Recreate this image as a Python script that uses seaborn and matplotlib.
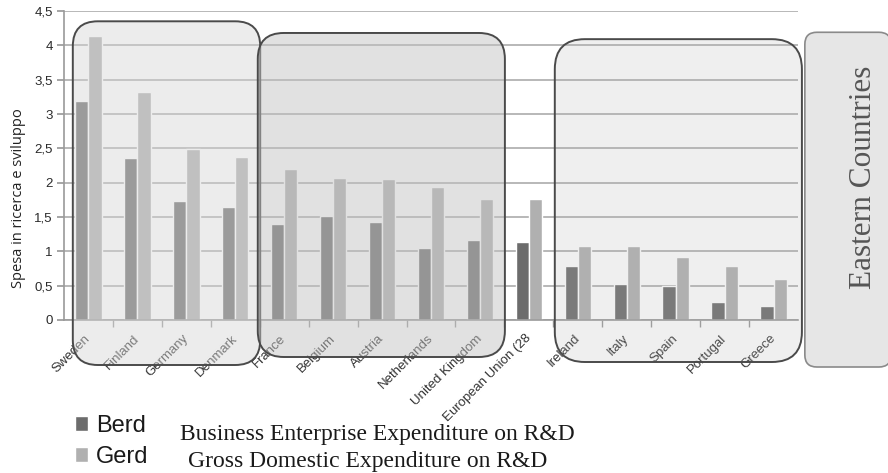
import numpy as np
import pandas as pd
import matplotlib
matplotlib.use("Agg")
import matplotlib.pyplot as plt
import matplotlib.colors as mcolors
import seaborn as sns
from matplotlib.patches import FancyBboxPatch
from matplotlib.transforms import IdentityTransform
from matplotlib.ticker import FuncFormatter

# ---------------- data ----------------
countries = ["Sweden", "Finland", "Germany", "Denmark", "France", "Belgium",
             "Austria", "Netherlands", "United Kingdom", "European Union (28",
             "Ireland", "Italy", "Spain", "Portugal", "Greece"]
berd = [3.19, 2.36, 1.73, 1.65, 1.40, 1.51, 1.42, 1.05, 1.17, 1.13,
        0.78, 0.53, 0.50, 0.26, 0.20]
gerd = [4.14, 3.32, 2.49, 2.38, 2.20, 2.07, 2.05, 1.94, 1.76, 1.76,
        1.08, 1.08, 0.92, 0.78, 0.59]
series = ["Berd", "Gerd"]
series_desc = ["Business Enterprise Expenditure on R&D",
               "Gross Domestic Expenditure on R&D"]
y_label = "Spesa in ricerca e sviluppo"
side_label = "Eastern Countries"
y_ticks = [0, 0.5, 1, 1.5, 2, 2.5, 3, 3.5, 4, 4.5]

df = pd.DataFrame({
    "Paese": countries * 2,
    "Serie": [series[0]] * len(countries) + [series[1]] * len(countries),
    "Valore": berd + gerd,
})

# ---------------- style ----------------
W, H = 888, 473
sns.set_theme(style="white")
plt.rcParams["font.family"] = ["Liberation Sans", "DejaVu Sans"]

fig = plt.figure(figsize=(W / 100, H / 100), dpi=100)
fig.patch.set_facecolor("white")
ax = fig.add_axes([64 / W, 1 - 320 / H, (798 - 64) / W, (320 - 11) / H])

sns.barplot(data=df, x="Paese", y="Valore", hue="Serie", order=countries,
            hue_order=series, palette={"Berd": "#6c6c6c", "Gerd": "#b0b0b0"},
            saturation=1, width=0.54, ax=ax, zorder=2)

ax.set_xlim(-0.5, len(countries) - 0.5)
ax.set_ylim(0, 4.5)
ax.set_yticks(y_ticks)
ax.yaxis.set_major_formatter(FuncFormatter(lambda v, p: ("%g" % v).replace(".", ",")))
ax.set_axisbelow(True)
ax.yaxis.grid(True, color="#b8b8b8", lw=1.4)
ax.xaxis.grid(False)
ax.set_facecolor("white")
for s in ["top", "right"]:
    ax.spines[s].set_visible(False)
for s in ["left", "bottom"]:
    ax.spines[s].set_color("#9a9a9a")
    ax.spines[s].set_linewidth(1.2)

ax.set_xlabel("")
ax.set_ylabel(y_label, fontsize=10.5, color="#222222",
              family=["Open Sans", "DejaVu Sans"])
ax.yaxis.set_label_coords((26 - 64) / (798 - 64), (320 - 198) / (320 - 11))
ax.tick_params(axis="y", left=True, length=5, color="#9a9a9a",
               labelsize=9.5, labelcolor="#2a2a2a", pad=3)
ax.tick_params(axis="x", which="major", length=0, pad=12,
               labelsize=9.5, labelcolor="#333333")
ax.set_xticks(np.arange(0.5, len(countries) - 0.5, 1), minor=True)
ax.tick_params(axis="x", which="minor", bottom=True, length=5,
               color="#9a9a9a", width=1)
for lbl in ax.get_xticklabels():
    lbl.set_rotation(45)
    lbl.set_ha("right")
    lbl.set_va("center")
    lbl.set_rotation_mode("anchor")

# legend
sns.move_legend(ax, "upper left", bbox_to_anchor=(75 / W, 1 - 415 / H),
                bbox_transform=fig.transFigure, frameon=False, title=None,
                fontsize=17, handlelength=0.55, handleheight=0.6,
                handletextpad=0.35, labelspacing=0.36, borderpad=0,
                borderaxespad=0)
leg = ax.get_legend()
for t in leg.get_texts():
    t.set_color("#1a1a1a")

serif = ["Liberation Serif", "DejaVu Serif"]
fig.text(180 / W, 1 - 440 / H, series_desc[0], family=serif, fontsize=17,
         color="#1a1a1a", va="baseline", ha="left")
fig.text(188 / W, 1 - 467 / H, series_desc[1], family=serif, fontsize=17,
         color="#1a1a1a", va="baseline", ha="left")

# ---------------- rounded group boxes ----------------
def add_box(x0, x1, y_top, px_bottom, face, alpha, rs, ec="#4a4a4a", lw=1.4):
    px0, py1 = ax.transData.transform((x0, y_top))
    px1, _ = ax.transData.transform((x1, y_top))
    py0 = H - px_bottom
    box = FancyBboxPatch((px0, py0), px1 - px0, py1 - py0,
                         boxstyle=f"round,pad=0,rounding_size={rs}",
                         transform=IdentityTransform(),
                         facecolor=mcolors.to_rgba(face, alpha),
                         edgecolor=ec, linewidth=lw, zorder=3)
    fig.add_artist(box)

add_box(-0.32, 3.51, 4.35, 365, "#d5d5d5", 0.45, 25)
add_box(3.46, 8.51, 4.18, 357, "#c2c2c2", 0.48, 26)
add_box(9.53, 14.58, 4.09, 362, "#b3b3b3", 0.20, 30)
add_box(14.64, 16.4, 4.19, 367, "#e6e6e6", 1.0, 12, ec="#8a8a8a", lw=1.2)

fig.text(863 / W, 1 - 177 / H, side_label, family=serif, fontsize=22.5,
         color="#555555", rotation=90, ha="center", va="center", zorder=4)

fig.savefig("out.png", dpi=100)
